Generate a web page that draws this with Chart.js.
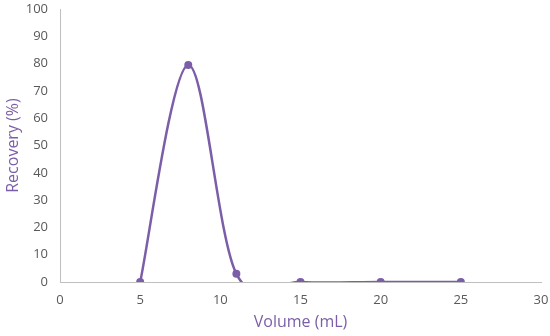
<!DOCTYPE html>
<html>
<head>
<meta charset="utf-8">
<script src="https://cdn.jsdelivr.net/npm/chart.js@4"></script>
<style>
  html, body { margin: 0; padding: 0; background: #fff; }
  #wrap { width: 550px; height: 336px; }
</style>
</head>
<body>
<div id="wrap"><canvas id="recoveryChart"></canvas></div>
<script>
// Data
const volumes = [5, 8, 11, 15, 20, 25];
const recovery = [0, 79.5, 3, 0, 0, 0];
const xTicks = [0, 5, 10, 15, 20, 25, 30];
const yTicks = [0, 10, 20, 30, 40, 50, 60, 70, 80, 90, 100];

const purple = '#7b5ea7';
const tickGray = '#595959';
const axisGray = '#bfbfbf';

// Excel-style smoothing: uniform Catmull-Rom control points (1/6 of neighbour span)
const excelSmooth = {
    id: 'excelSmooth',
    beforeDatasetDraw(chart, args) {
        const pts = args.meta.data;
        const n = pts.length;
        pts.forEach((p, i) => {
            const prev = pts[Math.max(i - 1, 0)];
            const next = pts[Math.min(i + 1, n - 1)];
            const dx = (next.x - prev.x) / 6;
            const dy = (next.y - prev.y) / 6;
            p.cp1x = p.x - dx;
            p.cp1y = p.y - dy;
            p.cp2x = p.x + dx;
            p.cp2y = p.y + dy;
        });
        args.meta.dataset._pointsUpdated = true;
    }
};

const ctx = document.getElementById('recoveryChart').getContext('2d');
new Chart(ctx, {
    type: 'line',
    data: {
        datasets: [{
            label: 'Recovery',
            data: volumes.map((v, i) => ({ x: v, y: recovery[i] })),
            borderColor: purple,
            backgroundColor: purple,
            borderWidth: 2.5,
            pointRadius: 4,
            pointBackgroundColor: purple,
            pointBorderWidth: 0,
            tension: 0.4,
            capBezierPoints: false,
            fill: false,
        }]
    },
    plugins: [excelSmooth],
    options: {
        responsive: true,
        maintainAspectRatio: false,
        animation: false,
        layout: { padding: 0 },
        plugins: {
            legend: { display: false },
            tooltip: { enabled: false },
        },
        scales: {
            x: {
                type: 'linear',
                min: 0,
                max: 30,
                afterBuildTicks: (scale) => { scale.ticks = xTicks.map(v => ({ value: v })); },
                afterFit: (scale) => { scale.height = 54; scale.paddingRight = 9; },
                grid: { display: false, drawTicks: false },
                border: { color: axisGray, width: 1 },
                ticks: { color: tickGray, font: { family: 'Open Sans', size: 13 }, padding: 10 },
                title: {
                    display: true,
                    text: 'Volume (mL)',
                    color: purple,
                    font: { family: 'Open Sans', size: 16 },
                    padding: { top: 2 },
                },
            },
            y: {
                min: 0,
                max: 100,
                afterBuildTicks: (scale) => { scale.ticks = yTicks.map(v => ({ value: v })); },
                afterFit: (scale) => { scale.width = 60; scale.paddingTop = 9; },
                grid: { display: false, drawTicks: false },
                border: { color: axisGray, width: 1 },
                ticks: { color: tickGray, font: { family: 'Open Sans', size: 13 }, padding: 12 },
                title: {
                    display: true,
                    text: 'Recovery (%)',
                    color: purple,
                    font: { family: 'Open Sans', size: 16 },
                    padding: { bottom: 0 },
                },
            },
        },
    },
});
</script>
</body>
</html>
